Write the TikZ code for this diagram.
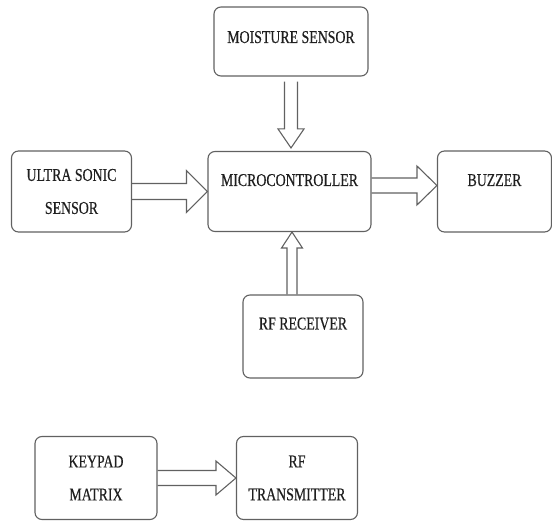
\documentclass[tikz,border=0pt]{standalone}
\usepackage{fontspec}
\setmainfont{Liberation Serif}[FakeStretch=0.77,FakeBold=0.4]
\usepackage{tikz}
\usetikzlibrary{positioning,calc}

\newcommand{\blockarrow}[5]{%
\coordinate (h) at ($(#2)!#5!(#1)$);
\draw[hollow] ($(#1)!#3!90:(#2)$) -- ($(h)!#3!-90:(#1)$) -- ($(h)!#4!-90:(#1)$)
 -- (#2) -- ($(h)!#4!90:(#1)$) -- ($(h)!#3!90:(#1)$) -- ($(#1)!#3!-90:(#2)$);}

\begin{document}
\begin{tikzpicture}
[on grid,
block/.style={draw=black!62, line width=1.1pt, rounded corners=7pt, fill=white,
 text=black!88, align=center, font=\fontsize{18}{33}\selectfont},
hollow/.style={draw=black!62, line width=1.1pt, line join=miter}]

\useasboundingbox (0,0) rectangle (552pt,-521pt);

\node [block, minimum width=163pt, minimum height=80pt, text height=12pt, text depth=23pt]
 (micro) at (289.5pt,-191.5pt) {MICROCONTROLLER};
\node [block, minimum width=154pt, minimum height=69pt, text height=12pt, text depth=9pt]
 (moisture) [above=150pt of micro, xshift=1.5pt] {MOISTURE SENSOR};
\node [block, minimum width=120pt, minimum height=81pt] (ultra) [left=218pt of micro]
 {ULTRA SONIC\\SENSOR};
\node [block, minimum width=114pt, minimum height=81pt, text height=12pt, text depth=23pt]
 (buzzer) [right=205pt of micro] {BUZZER};
\node [block, minimum width=120pt, minimum height=83pt, text height=12pt, text depth=26pt]
 (rfrx) [below=145pt of micro, xshift=13.5pt] {RF RECEIVER};

\node [block, minimum width=122pt, minimum height=83pt] (keypad) [below=286.5pt of ultra, xshift=24.5pt]
 {KEYPAD\\MATRIX};
\node [block, minimum width=121pt, minimum height=83pt] (tx) [right=201pt of keypad]
 {RF\\TRANSMITTER};

\coordinate (ms1) at ([yshift=-5pt]moisture.south);
\coordinate (ms2) at ([yshift=3pt]micro.north -| ms1);
\coordinate (mb1) at ([yshift=6pt]micro.east);
\coordinate (mb2) at (mb1 -| buzzer.west);
\coordinate (rf1) at ([xshift=-11pt]rfrx.north);
\coordinate (rf2) at (rf1 |- micro.south);

\blockarrow{ultra.east}{micro.west}{8pt}{21pt}{21pt}
\blockarrow{mb1}{mb2}{7.5pt}{19.5pt}{20pt}
\blockarrow{ms1}{ms2}{6.5pt}{13pt}{19pt}
\blockarrow{rf1}{rf2}{5pt}{10.5pt}{16pt}
\blockarrow{keypad.east}{tx.west}{7.5pt}{17pt}{20pt}

\end{tikzpicture}
\end{document}
